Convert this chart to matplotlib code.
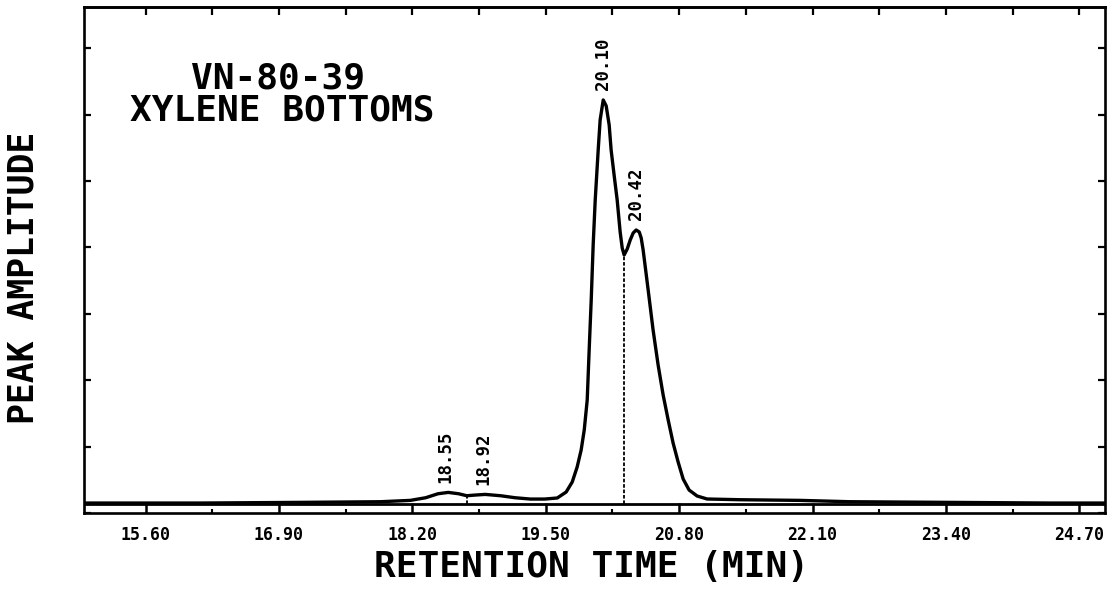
import numpy as np
import matplotlib
matplotlib.use("Agg")
import matplotlib.pyplot as plt
from matplotlib.ticker import FixedLocator, NullFormatter

# ---------------- data ----------------
time_min = [15.01, 16.14, 17.11, 17.89, 18.18, 18.33, 18.45, 18.55, 18.65, 18.73,
            18.81, 18.91, 19.06, 19.20, 19.35, 19.49,
            19.612, 19.699, 19.758, 19.806, 19.845, 19.875, 19.904, 19.923, 19.943,
            19.962, 19.982, 20.011, 20.030, 20.060,
            20.089, 20.118, 20.137, 20.166, 20.196, 20.225, 20.245, 20.264,
            20.294, 20.323, 20.352, 20.381, 20.411, 20.430,
            20.449, 20.498, 20.546, 20.595, 20.644, 20.693, 20.741, 20.790,
            20.839, 20.897, 20.975, 21.072,
            21.39, 21.98, 22.46, 23.44, 24.41, 24.95]
amplitude = [0.15, 0.15, 0.16, 0.17, 0.19, 0.23, 0.29, 0.31, 0.29, 0.26,
             0.27, 0.28, 0.26, 0.23, 0.21, 0.21,
             0.226, 0.316, 0.467, 0.693, 0.949, 1.250, 1.702, 2.455, 3.208,
             4.036, 4.714, 5.467, 5.919, 6.220,
             6.130, 5.843, 5.467, 5.090, 4.714, 4.232, 3.991, 3.886,
             3.976, 4.111, 4.217, 4.262, 4.232, 4.142,
             3.961, 3.358, 2.756, 2.229, 1.777, 1.401, 1.054, 0.768,
             0.512, 0.346, 0.256, 0.211,
             0.20, 0.19, 0.17, 0.16, 0.15, 0.15]

peak_labels = ["18.55", "18.92", "20.10", "20.42"]
peak_times = [18.52, 18.89, 20.06, 20.38]
drop_times = [18.73, 20.264]          # perpendicular drop lines
baseline_level = 0.13

x_tick_values = [15.60, 16.90, 18.20, 19.50, 20.80, 22.10, 23.40, 24.70]
x_tick_labels = ["15.60", "16.90", "18.20", "19.50", "20.80", "22.10", "23.40", "24.70"]
x_minor_values = [16.25, 17.55, 18.85, 20.15, 21.45, 22.75, 24.05]
y_tick_values = [0, 1, 2, 3, 4, 5, 6, 7]

title_lines = ["VN-80-39", "XYLENE BOTTOMS"]
x_title = "RETENTION TIME (MIN)"
y_title = "PEAK AMPLITUDE"

# ---------------- figure ----------------
FONT = "DejaVu Sans Mono"
fig = plt.figure(figsize=(11.15, 5.91), dpi=100)
ax = fig.add_axes([84 / 1115, 1 - 513 / 591, 1021 / 1115, 506 / 591])
ax.set_xlim(15.0, 24.95)
ax.set_ylim(0, 7.62)

for s in ax.spines.values():
    s.set_linewidth(1.9)
    s.set_color("black")

# integration baseline (upper band line of the axis)
ax.axhline(baseline_level, color="black", lw=2.0, zorder=2)

# chromatogram trace
ax.plot(time_min, amplitude, color="black", lw=2.4, solid_joinstyle="round",
        solid_capstyle="round", zorder=3)

# drop lines
for t in drop_times:
    top = np.interp(t, time_min, amplitude)
    ax.vlines(t, baseline_level, top, colors="black", lw=1.3,
              linestyles=(0, (2, 1)), zorder=2)

# peak labels
for lab, t in zip(peak_labels, peak_times):
    h = np.interp(t, time_min, amplitude)
    ax.annotate(lab, (t, h), xytext=(0, 7.0), textcoords="offset points",
                rotation=90, ha="center", va="bottom", fontsize=12.5,
                fontweight="bold", family=FONT)

# bottom ticks
ax.xaxis.set_major_locator(FixedLocator(x_tick_values))
ax.set_xticklabels(x_tick_labels, fontsize=12, fontweight="bold", family=FONT)
ax.xaxis.set_minor_locator(FixedLocator(x_minor_values))
ax.xaxis.set_minor_formatter(NullFormatter())
ax.tick_params(axis="x", which="major", direction="in", length=7, width=1.8,
               pad=9, top=False, bottom=True)
ax.tick_params(axis="x", which="minor", direction="in", length=3, width=1.5,
               top=False, bottom=True)

# top ticks every 0.65 min
top_ax = ax.secondary_xaxis("top")
top_ax.set_xticks(sorted(x_tick_values + x_minor_values))
top_ax.set_xticklabels([])
top_ax.tick_params(direction="in", length=6, width=1.6)
top_ax.spines["top"].set_linewidth(1.9)

# y ticks (no labels) on both sides
ax.set_yticks(y_tick_values)
ax.set_yticklabels([])
ax.tick_params(axis="y", which="major", direction="in", length=5, width=1.6,
               left=True, right=True)

# axis titles
ax.set_xlabel(x_title, fontsize=26, fontweight="bold", family=FONT, va="center")
ax.xaxis.set_label_coords(0.4966, -0.107)
ax.set_ylabel(y_title, fontsize=25, fontweight="bold", family=FONT, va="center")
ax.yaxis.set_label_coords(-0.0588, 0.464)

# sample title
ax.text(0.190, 0.858, title_lines[0], transform=ax.transAxes, ha="center",
        va="center", fontsize=26, fontweight="bold", family=FONT)
ax.text(0.194, 0.796, title_lines[1], transform=ax.transAxes, ha="center",
        va="center", fontsize=26, fontweight="bold", family=FONT)

fig.savefig("out.png", dpi=100)
